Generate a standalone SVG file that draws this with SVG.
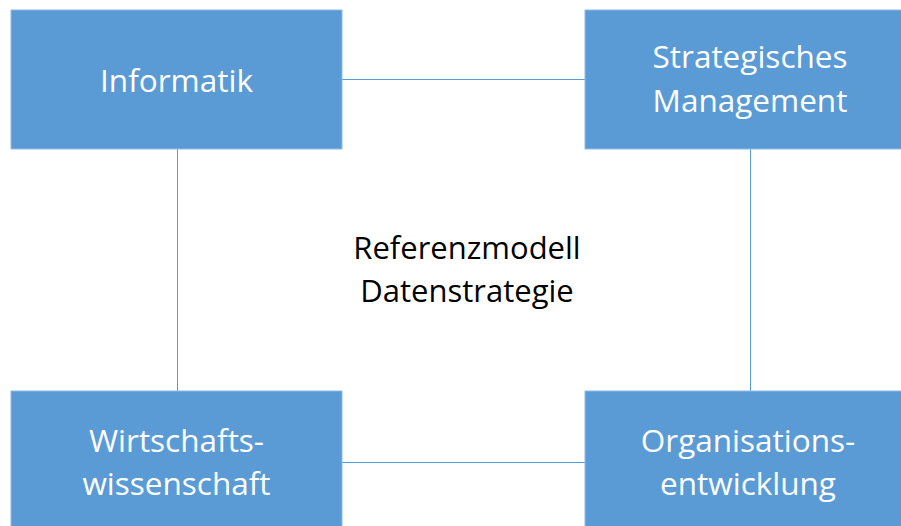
<svg xmlns="http://www.w3.org/2000/svg" width="901" height="526" viewBox="0 0 901 526">
  <style>
    .box { fill: #5b9bd5; stroke: #8fb9e3; stroke-width: 1; }
    .lbl { font-family: "Open Sans", "Noto Sans", "Liberation Sans", sans-serif; font-size: 31.5px; fill: #ffffff; text-anchor: middle; }
    .ctr { font-family: "Open Sans", "Noto Sans", "Liberation Sans", sans-serif; font-size: 31px; fill: #000000; text-anchor: middle; }
    .link { stroke: #5b9bd5; stroke-width: 1; fill: none; }
  </style>
  <rect width="901" height="526" fill="#ffffff"/>

  <g id="connectors">
    <line class="link" x1="342" y1="79.5" x2="585" y2="79.5"/>
    <line class="link" x1="342" y1="462.5" x2="585" y2="462.5"/>
    <line class="link" x1="177.5" y1="149" x2="177.5" y2="391"/>
    <line class="link" x1="750.5" y1="149" x2="750.5" y2="391"/>
  </g>

  <g id="informatik">
    <rect class="box" x="11" y="10" width="331" height="139"/>
    <text class="lbl" x="176.5" y="92">Informatik</text>
  </g>

  <g id="strategisches-management">
    <rect class="box" x="585" y="10" width="330" height="139"/>
    <text class="lbl" x="750" y="68">Strategisches</text>
    <text class="lbl" x="750" y="112">Management</text>
  </g>

  <g id="wirtschaftswissenschaft">
    <rect class="box" x="11" y="391" width="331" height="140"/>
    <text class="lbl" x="176.5" y="452">Wirtschafts-</text>
    <text class="lbl" x="176.5" y="495">wissenschaft</text>
  </g>

  <g id="organisationsentwicklung">
    <rect class="box" x="585" y="391" width="330" height="140"/>
    <text class="lbl" x="748" y="452">Organisations-</text>
    <text class="lbl" x="748" y="495">entwicklung</text>
  </g>

  <g id="referenzmodell">
    <text class="ctr" x="467" y="259">Referenzmodell</text>
    <text class="ctr" x="467" y="302">Datenstrategie</text>
  </g>
</svg>
